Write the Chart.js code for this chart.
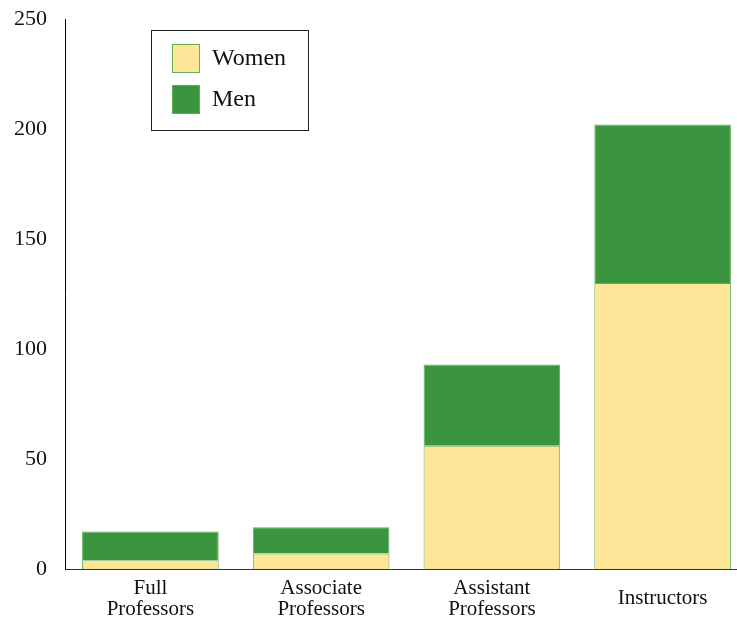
<!DOCTYPE html>
<html>
<head>
<meta charset="utf-8">
<script src="https://cdn.jsdelivr.net/npm/chart.js@4"></script>
<style>
  html, body { margin: 0; padding: 0; background: #fff; overflow: hidden; }
  #wrap { width: 748px; height: 621px; }
</style>
</head>
<body>
<div id="wrap"><canvas id="myChart" width="748" height="621"></canvas></div>
<script>
const categories = [['Full', 'Professors'], ['Associate', 'Professors'], ['Assistant', 'Professors'], 'Instructors'];
const women = [4, 7, 56, 130];
const men = [13, 12, 37, 72];
const yTicks = [0, 50, 100, 150, 200, 250];

const serif = '"Liberation Serif", "DejaVu Serif", serif';

// legend box drawn inside the plot, top-left
const boxLegend = {
  id: 'boxLegend',
  afterDraw(chart) {
    const ctx = chart.ctx;
    ctx.save();
    ctx.fillStyle = '#fff';
    ctx.fillRect(151.5, 30.5, 157, 100);
    ctx.strokeStyle = '#222';
    ctx.lineWidth = 1;
    ctx.strokeRect(151.5, 30.5, 157, 100);
    chart.data.datasets.forEach((ds, i) => {
      const y = 44 + i * 41;
      ctx.fillStyle = ds.backgroundColor;
      ctx.fillRect(172, y, 28, 29);
      ctx.strokeStyle = ds.borderColor;
      ctx.strokeRect(172.5, y + 0.5, 27, 28);
      ctx.fillStyle = '#111';
      ctx.font = '24px ' + serif;
      ctx.textBaseline = 'middle';
      ctx.fillText(ds.label, 212, y + 15);
    });
    ctx.restore();
  }
};

new Chart(document.getElementById('myChart').getContext('2d'), {
  type: 'bar',
  data: {
    labels: categories,
    datasets: [
      { label: 'Women', data: women, backgroundColor: '#fde698', borderColor: '#62ad55', borderWidth: 1 },
      { label: 'Men', data: men, backgroundColor: '#3a953e', borderColor: '#5fae55', borderWidth: 1 }
    ]
  },
  options: {
    responsive: false,
    animation: false,
    layout: { padding: { top: 19, left: 0, right: 0, bottom: 0 } },
    datasets: { bar: { categoryPercentage: 1, barPercentage: 0.8 } },
    plugins: { legend: { display: false }, tooltip: { enabled: false } },
    scales: {
      x: {
        stacked: true,
        grid: { display: false, drawTicks: false },
        border: { display: true, color: '#333', width: 1 },
        ticks: {
          color: '#111',
          font: { family: serif, size: 21, lineHeight: 1 },
          padding: 19,
          crossAlign: 'center',
          maxRotation: 0,
          autoSkip: false
        },
        afterFit(scale) { scale.height = 52; }
      },
      y: {
        stacked: true,
        min: 0,
        max: 250,
        grid: { display: false, drawTicks: false },
        border: { display: true, color: '#000', width: 1 },
        afterBuildTicks(scale) { scale.ticks = yTicks.map(v => ({ value: v })); },
        ticks: {
          color: '#111',
          font: { family: serif, size: 22 },
          padding: 18
        },
        afterFit(scale) {
          scale.width = 65;
          scale.paddingTop = 0;
          scale.paddingBottom = 0;
        }
      }
    }
  },
  plugins: [boxLegend]
});
</script>
</body>
</html>
